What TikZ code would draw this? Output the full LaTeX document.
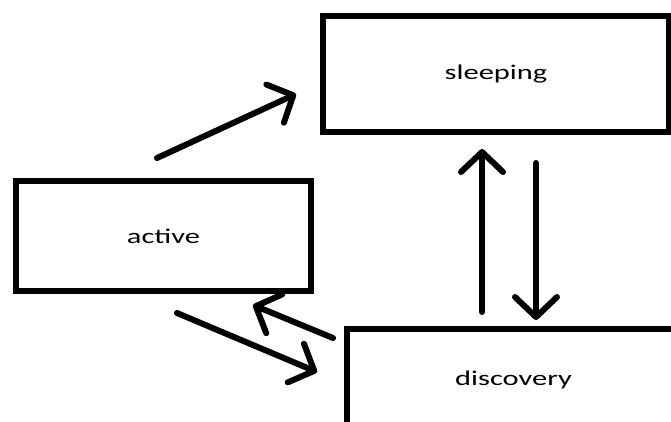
\documentclass[tikz,border=0pt]{standalone}
\usepackage{fontspec}
\setmainfont{Carlito}
\usepackage{graphicx}
\usetikzlibrary{arrows.meta,calc}
\definecolor{LineClr}{rgb}{0,0,0}
\newcommand{\StateTxt}[1]{\scalebox{1.45}[1]{#1}}

\begin{document}
\begin{tikzpicture}[x=1pt,y=-1pt,
  state/.style={draw=LineClr,line width=6.5pt,inner sep=0pt,font=\fontsize{21}{25}\selectfont},
  trans/.style={draw=LineClr,line width=6pt,line cap=round,-{Straight Barb[length=20pt,width=42pt,round]}}]
\path[use as bounding box,clip] (0,0) rectangle (671,421);

\node[state,minimum width=346pt,minimum height=116pt] (sleeping) at (496,74) {\StateTxt{sleeping}};
\node[state,minimum width=295pt,minimum height=110pt] (active) at (163.5,236) {\StateTxt{active}};
\node[state,minimum width=333pt,minimum height=102pt] (discovery) at (513.5,380) {\StateTxt{discovery}};

\coordinate (AS1) at (157,158); \coordinate (AS2) at (296,94);
\coordinate (DS1) at (482,312); \coordinate (DS2) at (482,149);
\coordinate (SD1) at (536,163); \coordinate (SD2) at (536,320);
\coordinate (AD1) at (177,313); \coordinate (AD2) at (317,372);
\coordinate (DA1) at (333,338); \coordinate (DA2) at (253,305);

\draw[trans] (AS1) -- (AS2);
\draw[trans] (DS1) -- (DS2);
\draw[trans] (SD1) -- (SD2);
\draw[trans] (AD1) -- (AD2);
\draw[trans] (DA1) -- (DA2);

\end{tikzpicture}
\end{document}
